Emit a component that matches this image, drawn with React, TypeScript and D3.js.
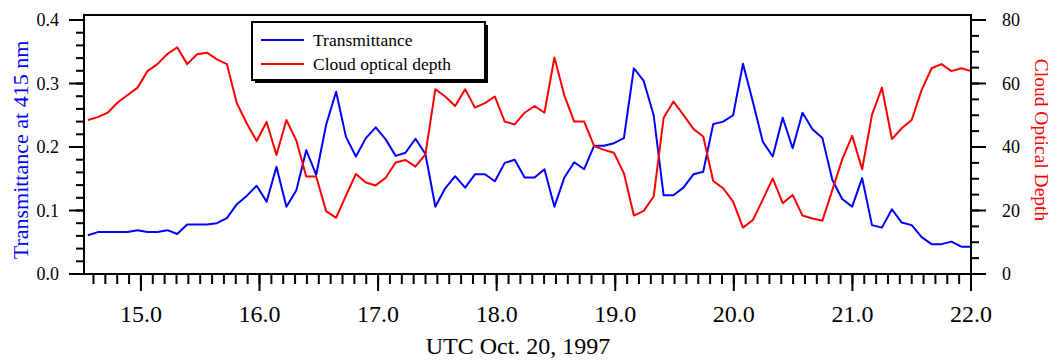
import React from "react";
import * as d3 from "d3";

// Sample times, decimal hours UTC (about every 5 minutes)
const HOURS = [
  14.553, 14.637, 14.72, 14.804, 14.888, 14.972, 15.055, 15.139, 15.223, 15.306,
  15.39, 15.474, 15.557, 15.641, 15.725, 15.809, 15.892, 15.976, 16.06, 16.143,
  16.227, 16.311, 16.394, 16.478, 16.562, 16.646, 16.729, 16.813, 16.897, 16.98,
  17.064, 17.148, 17.231, 17.315, 17.399, 17.483, 17.566, 17.65, 17.734, 17.817,
  17.901, 17.985, 18.068, 18.152, 18.236, 18.32, 18.403, 18.487, 18.571, 18.654,
  18.738, 18.822, 18.905, 18.989, 19.073, 19.157, 19.24, 19.324, 19.408, 19.491,
  19.575, 19.659, 19.742, 19.826, 19.91, 19.994, 20.077, 20.161, 20.245, 20.328,
  20.412, 20.496, 20.579, 20.663, 20.747, 20.831, 20.914, 20.998, 21.082, 21.165,
  21.249, 21.333, 21.416, 21.5, 21.584, 21.668, 21.751, 21.835, 21.919, 22.0,
];

// Transmittance at 415 nm
const TRANSMITTANCE = [
  0.061, 0.066, 0.066, 0.066, 0.066, 0.069, 0.066, 0.066, 0.069, 0.063,
  0.078, 0.078, 0.078, 0.08, 0.088, 0.11, 0.123, 0.139, 0.114, 0.169,
  0.106, 0.132, 0.195, 0.156, 0.235, 0.287, 0.216, 0.185, 0.214, 0.231,
  0.212, 0.186, 0.191, 0.213, 0.189, 0.106, 0.135, 0.154, 0.136, 0.157,
  0.157, 0.146, 0.175, 0.18, 0.152, 0.152, 0.165, 0.106, 0.152, 0.176,
  0.165, 0.202, 0.202, 0.206, 0.214, 0.324, 0.304, 0.25, 0.124, 0.124,
  0.136, 0.157, 0.161, 0.236, 0.24, 0.25, 0.331, 0.271, 0.208, 0.185,
  0.246, 0.198, 0.254, 0.228, 0.214, 0.148, 0.118, 0.106, 0.151, 0.077,
  0.073, 0.102, 0.081, 0.077, 0.058, 0.047, 0.047, 0.051, 0.043, 0.043,
];

// Cloud optical depth
const OPTICAL_DEPTH = [
  48.5, 49.4, 50.8, 54.0, 56.4, 58.7, 63.9, 66.1, 69.3, 71.4,
  66.1, 69.2, 69.7, 67.6, 66.1, 53.8, 47.5, 41.9, 47.9, 37.5,
  48.5, 42.0, 30.7, 30.7, 19.8, 17.7, 24.7, 31.5, 28.8, 27.9,
  30.3, 35.1, 35.9, 33.8, 37.7, 58.2, 55.9, 52.9, 58.2, 52.4,
  53.8, 55.9, 48.0, 47.1, 50.8, 52.9, 50.8, 68.2, 56.2, 48.0,
  48.0, 40.3, 39.1, 38.2, 31.7, 18.4, 19.9, 24.4, 49.2, 54.3,
  50.1, 45.7, 43.3, 29.3, 27.0, 22.8, 14.6, 17.0, 23.5, 30.1,
  22.3, 24.9, 18.4, 17.5, 16.8, 26.5, 36.1, 43.5, 33.0, 50.1,
  58.7, 42.5, 45.9, 48.5, 58.0, 64.8, 66.1, 63.9, 64.8, 63.9,
];

const X_TICKS = [15, 16, 17, 18, 19, 20, 21, 22];
const LEFT_TICKS = [0, 0.1, 0.2, 0.3, 0.4];
const RIGHT_TICKS = [0, 20, 40, 60, 80];

const SERIES = [
  { label: "Transmittance", color: "#0000ff" },
  { label: "Cloud optical depth", color: "#ff0000" },
];

const FONT = "'Liberation Serif', 'Times New Roman', serif";

export default function App() {
  const W = 1055;
  const H = 360;
  const left = 84;
  const right = 971;
  const bottom = 274;
  const frameTop = 15;

  const x = d3.scaleLinear().domain([14.52, 22.0]).range([left, right]);
  const yT = d3.scaleLinear().domain([0, 0.4]).range([bottom, 20]);
  const yC = d3.scaleLinear().domain([0, 80]).range([bottom, 20]);

  const lineT = d3
    .line<number>()
    .x((_, i) => x(HOURS[i]))
    .y((d) => yT(d));
  const lineC = d3
    .line<number>()
    .x((_, i) => x(HOURS[i]))
    .y((d) => yC(d));

  const xMinor = d3.range(146, 221).map((v) => v / 10);
  const leftMinor = d3.range(0, 21).map((v) => v / 50);
  const rightMinor = d3.range(0, 17).map((v) => v * 5);

  return (
    <svg
      width={W}
      height={H}
      style={{ position: "absolute", left: 0, top: 0, background: "#fff" }}
      fontFamily={FONT}
    >
      {/* data lines */}
      <path d={lineT(TRANSMITTANCE) ?? ""} fill="none" stroke={SERIES[0].color} strokeWidth={2} strokeLinejoin="round" />
      <path d={lineC(OPTICAL_DEPTH) ?? ""} fill="none" stroke={SERIES[1].color} strokeWidth={2} strokeLinejoin="round" />

      {/* frame */}
      <path
        d={`M${left},${bottom} L${left},${frameTop} L${right},${frameTop} L${right},${bottom} Z`}
        fill="none"
        stroke="#000"
        strokeWidth={2}
      />

      {/* bottom axis ticks */}
      {xMinor.map((v) => (
        <line key={`xm${v}`} x1={x(v)} x2={x(v)} y1={bottom} y2={bottom + 10} stroke="#000" strokeWidth={2} />
      ))}
      {X_TICKS.map((v) => (
        <g key={`xt${v}`}>
          <line x1={x(v)} x2={x(v)} y1={bottom} y2={bottom + 17} stroke="#000" strokeWidth={2} />
          <text x={x(v)} y={322} textAnchor="middle" fontSize={24} fill="#000">
            {v.toFixed(1)}
          </text>
        </g>
      ))}

      {/* left axis ticks */}
      {leftMinor.map((v) => (
        <line key={`lm${v}`} x1={left - 8} x2={left} y1={yT(v)} y2={yT(v)} stroke="#000" strokeWidth={2} />
      ))}
      {LEFT_TICKS.map((v) => (
        <g key={`lt${v}`}>
          <line x1={left - 15} x2={left} y1={yT(v)} y2={yT(v)} stroke="#000" strokeWidth={2} />
          <text x={59} y={yT(v) + 6} textAnchor="end" fontSize={18} fill="#000">
            {v.toFixed(1)}
          </text>
        </g>
      ))}

      {/* right axis ticks */}
      {rightMinor.map((v) => (
        <line key={`rm${v}`} x1={right} x2={right + 8} y1={yC(v)} y2={yC(v)} stroke="#000" strokeWidth={2} />
      ))}
      {RIGHT_TICKS.map((v) => (
        <g key={`rt${v}`}>
          <line x1={right} x2={right + 15} y1={yC(v)} y2={yC(v)} stroke="#000" strokeWidth={2} />
          <text x={1002} y={yC(v) + 6} textAnchor="start" fontSize={18} fill="#000">
            {v}
          </text>
        </g>
      ))}

      {/* axis titles */}
      <text x={518} y={354} textAnchor="middle" fontSize={24} fill="#000">
        UTC Oct. 20, 1997
      </text>
      <text
        transform={`translate(28,150) rotate(-90)`}
        textAnchor="middle"
        fontSize={22}
        fill="#0000ff"
      >
        Transmittance at 415 nm
      </text>
      <text
        transform={`translate(1035,140) rotate(90)`}
        textAnchor="middle"
        fontSize={19.5}
        fill="#ff0000"
      >
        Cloud Optical Depth
      </text>

      {/* legend */}
      <rect x={255} y={25} width={233} height={58} fill="#000" />
      <rect x={252} y={22} width={233} height={58} fill="#fff" stroke="#000" strokeWidth={2} />
      {SERIES.map((s, i) => (
        <g key={s.label}>
          <line x1={261} x2={304} y1={40 + i * 24} y2={40 + i * 24} stroke={s.color} strokeWidth={2} />
          <text x={313} y={46 + i * 24} fontSize={17.5} fill="#000">
            {s.label}
          </text>
        </g>
      ))}
    </svg>
  );
}
